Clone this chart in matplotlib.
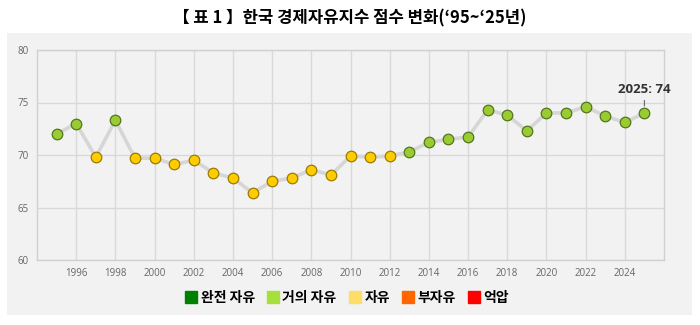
import matplotlib.pyplot as plt
from matplotlib.lines import Line2D
from matplotlib.patches import Rectangle

plt.rcParams['font.family'] = ['Noto Sans CJK KR', 'DejaVu Sans']

# Korea economic freedom index scores, 1995-2025
years = list(range(1995, 2026))
scores = [72.0, 73.0, 69.8, 73.3, 69.7, 69.7, 69.1, 69.5, 68.3, 67.8,
          66.4, 67.5, 67.8, 68.6, 68.1, 69.9, 69.8, 69.9, 70.3, 71.2,
          71.5, 71.7, 74.3, 73.8, 72.3, 74.0, 74.0, 74.6, 73.7, 73.1, 74.0]

# freedom categories and their legend colours
cat_labels = ['완전 자유', '거의 자유', '자유', '부자유', '억압']
cat_colors = ['#008000', '#a6e03c', '#ffdd66', '#ff6600', '#ff0000']

title = '【 표 1 】한국 경제자유지수 점수 변화(‘95~‘25년)'


def point_style(v):
    # fill / edge colour by score band
    if v >= 70:
        return '#99cc33', '#55741c'
    return '#ffcc00', '#9a7b00'


fig = plt.figure(figsize=(7, 3.25), dpi=100)
fig.patch.set_facecolor('white')

# grey backdrop panel behind the chart and legend
fig.patches.append(Rectangle((7 / 700, 10 / 325), 685 / 700, 282 / 325,
                             transform=fig.transFigure, facecolor='#f2f2f2',
                             edgecolor='none', zorder=-5))

ax = fig.add_axes([37 / 700, 65 / 325, 627 / 700, 210 / 325])
ax.set_facecolor('#f2f2f2')

ax.plot(years, scores, color='#d6d6d6', lw=2.6, zorder=2, solid_capstyle='round')
for x, v in zip(years, scores):
    fc, ec = point_style(v)
    ax.plot(x, v, 'o', ms=7.6, mfc=fc, mec=ec, mew=0.9, zorder=3)

ax.set_xlim(1994, 2026)
ax.set_ylim(60, 80)
ax.set_xticks(range(1996, 2025, 2))
ax.set_yticks([60, 65, 70, 75, 80])
ax.grid(True, color='#d9d9d9', lw=1)
ax.set_axisbelow(True)
for s in ax.spines.values():
    s.set_color('#d0d0d0')
    s.set_linewidth(1)
ax.tick_params(length=0, labelsize=7, colors='#666666', pad=6)
for lab in ax.get_xticklabels() + ax.get_yticklabels():
    lab.set_family(['Open Sans', 'DejaVu Sans'])

# last-year callout
ax.annotate('2025: 74', xy=(years[-1], scores[-1]), xytext=(years[-1], scores[-1] + 1.6),
            ha='center', va='bottom', fontsize=9.5, fontweight='bold', color='#333333',
            family=['Open Sans', 'DejaVu Sans'],
            arrowprops=dict(arrowstyle='-', color='#666666', lw=0.8,
                            shrinkA=1, shrinkB=5))

fig.text(0.5, 1 - 18 / 325, title, ha='center', va='center', fontsize=12,
         fontweight='bold', color='black')

handles = [Line2D([], [], marker='s', ls='none', ms=8, mfc=c, mec=c) for c in cat_colors]
fig.legend(handles, cat_labels, loc='center', bbox_to_anchor=(0.496, 1 - 298 / 325),
           ncol=5, frameon=False, handlelength=0.8, handletextpad=0.3,
           columnspacing=0.9, prop=dict(weight='bold', size=10))

fig.savefig('out.png', dpi=100)
